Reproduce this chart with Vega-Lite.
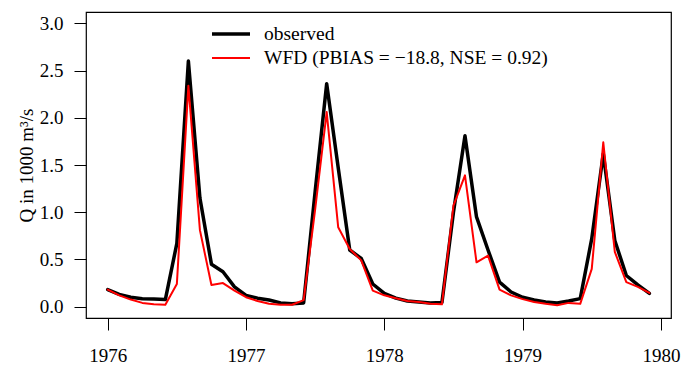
{
  "$schema": "https://vega.github.io/schema/vega-lite/v6.json",
  "width": 585,
  "height": 306,
  "autosize": {"type": "none"},
  "padding": {"left": 86, "top": 12, "right": 12, "bottom": 51},
  "background": "white",
  "data": {
    "values": [
      {"t": 1976.0, "observed": 0.18, "WFD": 0.18},
      {"t": 1976.0833, "observed": 0.13, "WFD": 0.12},
      {"t": 1976.1667, "observed": 0.10, "WFD": 0.075},
      {"t": 1976.25, "observed": 0.085, "WFD": 0.04},
      {"t": 1976.3333, "observed": 0.08, "WFD": 0.025},
      {"t": 1976.4167, "observed": 0.075, "WFD": 0.02},
      {"t": 1976.5, "observed": 0.67, "WFD": 0.24},
      {"t": 1976.5833, "observed": 2.60, "WFD": 2.34},
      {"t": 1976.6667, "observed": 1.15, "WFD": 0.81},
      {"t": 1976.75, "observed": 0.45, "WFD": 0.23},
      {"t": 1976.8333, "observed": 0.37, "WFD": 0.25},
      {"t": 1976.9167, "observed": 0.21, "WFD": 0.17},
      {"t": 1977.0, "observed": 0.12, "WFD": 0.10},
      {"t": 1977.0833, "observed": 0.09, "WFD": 0.06},
      {"t": 1977.1667, "observed": 0.07, "WFD": 0.03},
      {"t": 1977.25, "observed": 0.04, "WFD": 0.02},
      {"t": 1977.3333, "observed": 0.03, "WFD": 0.02},
      {"t": 1977.4167, "observed": 0.04, "WFD": 0.07},
      {"t": 1977.5, "observed": 1.22, "WFD": 1.03},
      {"t": 1977.5833, "observed": 2.36, "WFD": 2.06},
      {"t": 1977.6667, "observed": 1.47, "WFD": 0.84},
      {"t": 1977.75, "observed": 0.60, "WFD": 0.61},
      {"t": 1977.8333, "observed": 0.51, "WFD": 0.49},
      {"t": 1977.9167, "observed": 0.24, "WFD": 0.17},
      {"t": 1978.0, "observed": 0.14, "WFD": 0.12},
      {"t": 1978.0833, "observed": 0.09, "WFD": 0.09},
      {"t": 1978.1667, "observed": 0.06, "WFD": 0.06},
      {"t": 1978.25, "observed": 0.05, "WFD": 0.05},
      {"t": 1978.3333, "observed": 0.04, "WFD": 0.03},
      {"t": 1978.4167, "observed": 0.045, "WFD": 0.025},
      {"t": 1978.5, "observed": 1.0, "WFD": 1.07},
      {"t": 1978.5833, "observed": 1.81, "WFD": 1.39},
      {"t": 1978.6667, "observed": 0.95, "WFD": 0.47},
      {"t": 1978.75, "observed": 0.60, "WFD": 0.54},
      {"t": 1978.8333, "observed": 0.26, "WFD": 0.18},
      {"t": 1978.9167, "observed": 0.155, "WFD": 0.12},
      {"t": 1979.0, "observed": 0.10, "WFD": 0.08},
      {"t": 1979.0833, "observed": 0.07, "WFD": 0.05},
      {"t": 1979.1667, "observed": 0.05, "WFD": 0.03},
      {"t": 1979.25, "observed": 0.04, "WFD": 0.015},
      {"t": 1979.3333, "observed": 0.06, "WFD": 0.04},
      {"t": 1979.4167, "observed": 0.085, "WFD": 0.03},
      {"t": 1979.5, "observed": 0.72, "WFD": 0.40},
      {"t": 1979.5833, "observed": 1.62, "WFD": 1.74},
      {"t": 1979.6667, "observed": 0.70, "WFD": 0.58},
      {"t": 1979.75, "observed": 0.33, "WFD": 0.26},
      {"t": 1979.8333, "observed": 0.23, "WFD": 0.21},
      {"t": 1979.9167, "observed": 0.14, "WFD": 0.145}
    ]
  },
  "transform": [
    {"fold": ["observed", "WFD"], "as": ["series", "q"]}
  ],
  "encoding": {
    "x": {
      "field": "t",
      "type": "quantitative",
      "scale": {"domain": [1975.843, 1980.073], "nice": false, "zero": false},
      "axis": {
        "title": null,
        "values": [1976, 1977, 1978, 1979, 1980],
        "format": "d",
        "tickSize": 12,
        "labelPadding": 16
      }
    },
    "y": {
      "field": "q",
      "type": "quantitative",
      "scale": {"domain": [-0.12, 3.12], "nice": false, "zero": false},
      "axis": {
        "title": "Q in 1000 m³/s",
        "values": [0, 0.5, 1, 1.5, 2, 2.5, 3],
        "format": ".1f",
        "tickSize": 12,
        "labelPadding": 11,
        "titleX": -60,
        "titleY": 153,
        "titleAngle": 270,
        "titleAlign": "center",
        "titleBaseline": "middle"
      }
    },
    "color": {
      "field": "series",
      "type": "nominal",
      "scale": {"domain": ["observed", "WFD"], "range": ["#000000", "#ff0000"]},
      "legend": {
        "title": null,
        "orient": "none",
        "legendX": 124,
        "legendY": 10,
        "padding": 0,
        "symbolType": "stroke",
        "symbolSize": 1444,
        "clipHeight": 24,
        "labelOffset": 12,
        "rowPadding": 0,
        "labelLimit": 0,
        "labelExpr": "datum.label == 'WFD' ? 'WFD (PBIAS = \u221218.8, NSE = 0.92)' : datum.label"
      }
    },
    "strokeWidth": {
      "field": "series",
      "type": "nominal",
      "scale": {"domain": ["observed", "WFD"], "range": [3.5, 2]},
      "legend": {
        "title": null,
        "orient": "none",
        "legendX": 124,
        "legendY": 10,
        "padding": 0,
        "symbolType": "stroke",
        "symbolSize": 1444,
        "clipHeight": 24,
        "labelOffset": 12,
        "rowPadding": 0,
        "labelLimit": 0,
        "labelExpr": "datum.label == 'WFD' ? 'WFD (PBIAS = \u221218.8, NSE = 0.92)' : datum.label"
      }
    }
  },
  "layer": [
    {
      "transform": [{"filter": "datum.series == 'observed'"}],
      "mark": {"type": "line", "strokeJoin": "round", "strokeCap": "round"}
    },
    {
      "transform": [{"filter": "datum.series == 'WFD'"}],
      "mark": {"type": "line", "strokeJoin": "round", "strokeCap": "round"}
    }
  ],
  "config": {
    "font": "Liberation Serif",
    "view": {"stroke": "#000000", "strokeWidth": 1.2},
    "axis": {
      "domain": false,
      "grid": false,
      "tickColor": "#000000",
      "tickWidth": 1,
      "labelColor": "#000000",
      "labelFont": "Liberation Serif",
      "labelFontSize": 19,
      "titleFont": "Liberation Serif",
      "titleFontSize": 19,
      "titleFontWeight": "normal",
      "titleColor": "#000000"
    },
    "legend": {
      "labelFont": "Liberation Serif",
      "labelFontSize": 19.5,
      "labelColor": "#000000",
      "symbolStrokeWidth": 3
    }
  }
}
